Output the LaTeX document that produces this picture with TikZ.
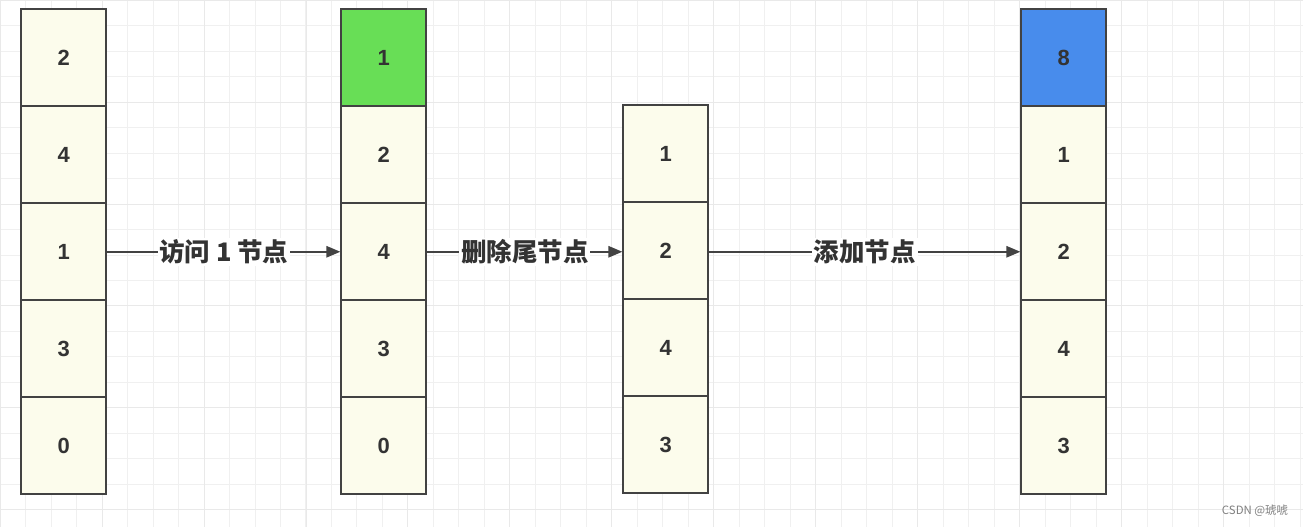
\documentclass[tikz,border=0pt]{standalone}
\usepackage{fontspec}
\setmainfont{Liberation Sans}
\newfontfamily\cjk{Noto Sans CJK SC}
\usetikzlibrary{matrix,arrows.meta}
\definecolor{cellfill}{RGB}{252,252,236}
\definecolor{cellline}{RGB}{66,66,66}
\definecolor{hitgreen}{RGB}{104,222,86}
\definecolor{newblue}{RGB}{72,140,236}
\definecolor{gridminor}{RGB}{240,240,240}
\definecolor{gridmajor}{RGB}{233,233,233}
\tikzset{
  cell/.style     = {draw=cellline, fill=cellfill, line width=1.1pt,
                     minimum width=1.7cm, minimum height=1.94cm,
                     inner sep=0pt, text=black!80,
                     font=\fontsize{12.5}{14}\selectfont\bfseries},
  hit/.style      = {cell, fill=hitgreen},
  fresh/.style    = {cell, fill=newblue},
  stack/.style    = {matrix of nodes, row sep=-1.1pt, inner sep=0pt,
                     anchor=north west, nodes={cell}},
  oplabel/.style  = {fill=white, inner sep=1pt, text=black!80,
                     font=\cjk\fontsize{14.5}{16}\selectfont\bfseries},
  oparrow/.style  = {draw=cellline, line width=1pt,
                     -{Triangle[length=8pt,width=6.5pt]}}
}
\begin{document}
\begin{tikzpicture}[x=0.02cm, y=-0.02cm]
  \useasboundingbox (0,0) rectangle (1303,527);
  \fill[white] (0,0) rectangle (1303,527);
  \draw[gridminor, line width=0.5pt, step=0.51cm] (0,0) grid (1303,527);
  \draw[gridmajor, line width=0.5pt, step=2.04cm] (0,0) grid (1303,527);

  % the four states of the list
  \matrix (before) [stack] at (20,8) {
    2 \\ 4 \\ 1 \\ 3 \\ 0 \\
  };
  \matrix (visit) [stack] at (340,8) {
    |[hit]| 1 \\ 2 \\ 4 \\ 3 \\ 0 \\
  };
  \matrix (evict) [stack] at (622,104) {
    1 \\ 2 \\ 4 \\ 3 \\
  };
  \matrix (add) [stack] at (1020,8) {
    |[fresh]| 8 \\ 1 \\ 2 \\ 4 \\ 3 \\
  };

  \draw[oparrow] (before-3-1) -- (visit-3-1)
    node[midway, oplabel] {访问 1 节点};
  \draw[oparrow] (visit-3-1) -- (evict-2-1.west |- visit-3-1)
    node[midway, oplabel] {删除尾节点};
  \draw[oparrow] (evict-2-1.east |- add-3-1) -- (add-3-1)
    node[midway, oplabel] {添加节点};

  \node (watermark) [font=\cjk\fontsize{6.5}{8}\selectfont, text=gray]
    at (1255,511) {CSDN @琥唬};
\end{tikzpicture}
\end{document}
